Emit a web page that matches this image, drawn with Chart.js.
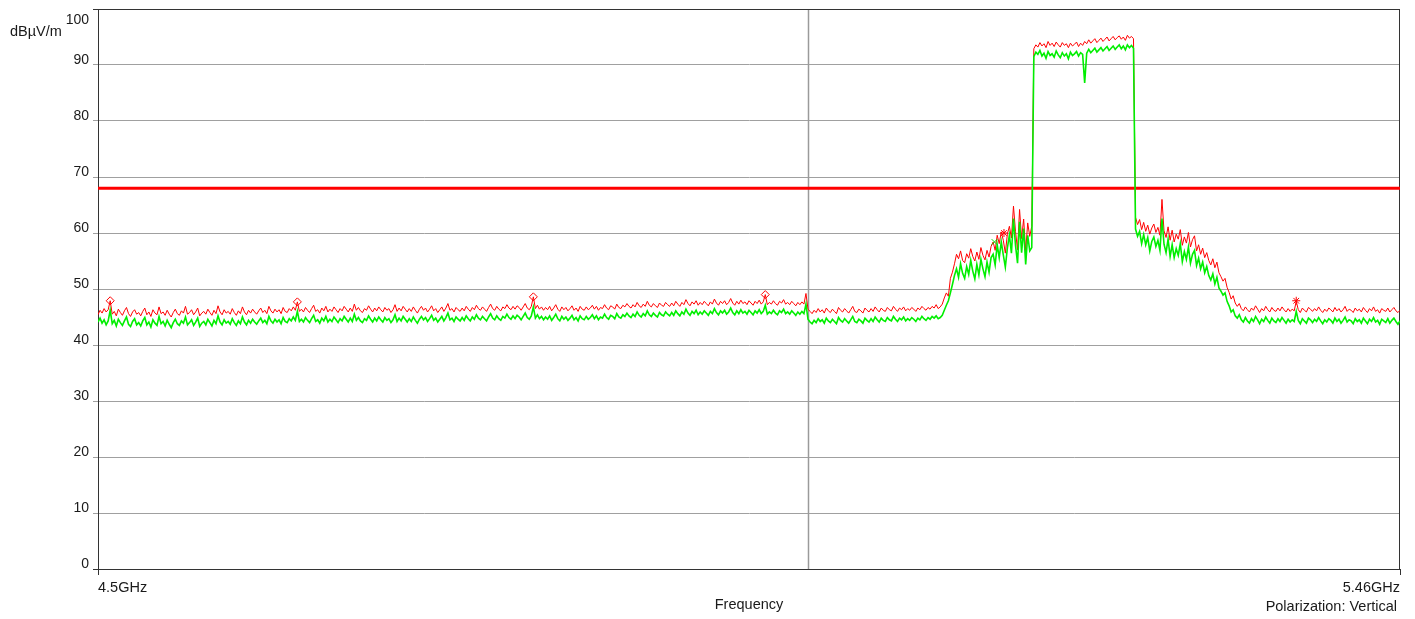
<!DOCTYPE html>
<html>
<head>
<meta charset="utf-8">
<title>Spectrum scan</title>
<script src="https://cdn.jsdelivr.net/npm/chart.js@4.4.1/dist/chart.umd.min.js"></script>
<style>
  html, body { margin: 0; padding: 0; background: #fff; }
  canvas { display: block; }
</style>
</head>
<body>
<canvas id="scan" width="1415" height="619"></canvas>
<script>
// sweep settings
const startGHz = 4.5;
const stopGHz = 5.46;
const levelTicks = [0, 10, 20, 30, 40, 50, 60, 70, 80, 90, 100];
const limitLevel = 68;
const cursorGHz = 5.0235;

// peak detector trace (dBµV/m), evenly spaced over the sweep
const peakLevels = [
  45.4, 46.2, 45.7, 46.5, 45.9, 46.3, 47.9, 45.5, 46.0, 45.2, 46.4, 45.8, 45.3, 46.1, 46.7, 45.6, 45.1, 45.9, 46.3, 45.5,
  45.8, 45.2, 46.0, 46.6, 45.4, 45.9, 45.1, 46.3, 45.7, 45.4, 46.8, 45.6, 45.9, 45.3, 46.2, 45.5, 45.0, 45.8, 46.4, 45.6,
  45.3, 46.1, 45.7, 46.9, 45.5, 45.8, 46.3, 45.4, 45.9, 46.6, 45.2, 45.7, 46.0, 45.5, 46.4, 45.8, 45.3, 46.2, 45.6, 47.0,
  45.9, 45.4, 46.3, 45.7, 46.0, 45.5, 46.5, 45.8, 45.3, 46.1, 45.6, 46.8, 45.9, 45.4, 46.2, 45.7, 46.4, 45.9, 45.5, 46.1,
  46.6, 45.8, 46.2, 45.6, 46.9, 46.1, 45.7, 46.4, 45.9, 46.3, 45.6, 46.7, 46.0, 45.8, 46.5, 46.1, 46.8, 46.2, 47.7, 46.0,
  46.4, 45.9, 46.7, 46.2, 45.8, 46.5, 47.1, 46.0, 46.3, 45.7, 46.6, 46.1, 46.9, 45.9, 46.4, 46.0, 46.8, 46.3, 45.8, 46.5,
  46.1, 46.9, 46.4, 45.9, 46.6, 46.0, 47.3, 46.2, 46.7, 46.1, 45.8, 46.5, 46.2, 47.0, 46.4, 45.9, 46.6, 46.1, 46.8, 46.3,
  45.9, 46.7, 46.2, 46.5, 45.8, 46.3, 47.2, 46.0, 46.6, 46.1, 46.9, 46.4, 45.9, 46.5, 46.0, 46.8, 46.2, 45.7, 46.4, 46.9,
  46.2, 46.6, 45.9, 46.4, 47.0, 46.1, 46.5, 45.8, 46.3, 46.8, 46.0, 46.6, 47.4, 46.2, 46.5, 45.9, 46.7, 46.3, 46.0, 46.6,
  46.1, 46.9, 46.4, 46.0, 46.7, 46.3, 47.1, 46.5, 46.2, 46.8, 46.4, 46.0, 46.7, 47.3, 46.5, 46.2, 46.9, 46.4, 46.1, 46.8,
  46.5, 47.2, 46.6, 46.3, 46.9, 46.4, 47.0, 46.7, 46.2, 46.8, 47.4, 46.6, 46.3, 46.9, 48.6, 46.5, 47.1, 46.4, 46.8, 46.2,
  46.7, 46.3, 46.9, 46.1, 46.6, 47.2, 46.4, 46.0, 46.8, 46.3, 46.7, 46.1, 46.5, 47.0, 46.2, 46.6, 46.0, 46.9, 46.4, 46.2,
  46.8, 46.3, 46.6, 47.1, 46.4, 46.9, 46.2, 46.7, 46.5, 47.2, 46.6, 46.3, 47.0, 46.8, 46.4, 47.3, 46.7, 46.5, 47.1, 46.8,
  47.4, 46.9, 46.6, 47.2, 46.8, 47.6, 47.0, 46.7, 47.3, 46.9, 47.8, 47.1, 46.8, 47.4, 47.0, 46.7, 47.5, 47.1, 46.9, 47.6,
  47.2, 46.9, 47.5, 47.0, 47.8, 47.3, 46.9, 47.6, 47.2, 48.1, 47.4, 47.0, 47.7, 47.3, 47.9, 47.1, 47.6, 47.2, 47.8, 47.4,
  47.0, 47.7, 47.3, 48.2, 47.5, 47.1, 47.8, 47.4, 47.9, 47.2, 47.6, 48.3, 47.5, 47.1, 47.8, 47.3, 48.0, 47.4, 47.7, 47.2,
  47.9, 47.5, 47.1, 47.8, 47.4, 48.0, 47.3, 47.7, 49.0, 47.2, 47.6, 47.3, 47.9, 47.4, 47.1, 47.8, 47.5, 48.1, 47.3, 47.6,
  47.2, 47.8, 47.4, 47.0, 47.6, 47.2, 47.7, 47.3, 49.2, 46.4, 46.0, 45.6, 46.2, 45.8, 46.5, 45.9, 46.3, 45.7, 46.6, 46.1,
  45.8, 46.4, 46.0, 45.6, 46.7, 46.2, 45.9, 46.5, 46.1, 45.7, 46.3, 46.9, 46.0, 45.8, 46.4, 46.1, 45.7, 46.6, 46.2, 45.9,
  46.5, 46.0, 46.8, 46.3, 45.9, 46.6, 46.2, 46.0, 46.7, 46.3, 46.1, 46.9, 46.4, 46.0, 46.6, 46.3, 46.8, 46.1, 46.5, 46.2,
  46.7, 46.4, 46.0, 46.6, 46.3, 46.9, 46.5, 46.2, 46.7, 46.4, 46.9, 46.6, 47.2, 46.5, 46.8, 47.3, 48.4, 49.3, 48.7, 51.9,
  53.0, 54.5, 56.2, 55.4, 56.8, 55.1, 54.7, 56.3, 55.5, 57.2, 55.8, 55.0, 56.6, 55.3, 57.4, 56.0, 55.2, 56.9, 55.7, 57.6,
  58.4, 56.9, 59.6, 58.1, 60.2, 58.7, 56.4, 59.8, 61.2, 59.1, 64.8, 60.3, 57.0, 64.2, 59.0, 62.5, 56.8, 61.8, 59.4, 61.2,
  92.9, 93.6, 93.2, 94.0, 93.4, 93.8, 93.1, 94.2, 93.5, 93.9, 93.3, 94.1, 93.6, 93.2, 94.0, 93.5, 93.8, 93.1, 93.9, 93.4,
  93.7, 94.1, 93.3, 93.9, 93.5, 94.2, 93.8, 94.5, 93.9, 94.3, 94.7, 94.0, 94.4, 94.8, 94.2, 94.6, 95.0, 94.3, 94.7, 95.1,
  94.5, 94.9, 95.2, 94.6, 95.0, 94.4, 95.3, 94.8, 95.1, 94.7, 62.8, 61.5, 62.4, 60.6, 61.9, 60.3, 61.4, 59.8, 60.9, 61.6,
  60.1, 61.0, 59.6, 66.0, 60.4, 59.2, 61.1, 58.7, 60.5, 58.4, 59.8, 58.9, 60.6, 57.8, 59.3, 58.2, 60.1, 57.5, 58.8, 59.5,
  56.8, 57.9, 56.2, 57.3, 55.6, 56.5, 55.1, 54.3, 55.4, 53.8, 54.8, 52.9, 52.2, 51.4, 51.9, 50.3, 49.4, 48.2, 48.8, 47.5,
  46.9, 47.4, 46.5, 46.1, 46.8, 46.3, 45.9, 46.6, 46.2, 47.0, 46.4, 45.8, 46.5, 46.1, 46.9, 46.3, 45.9, 46.7, 46.2, 46.0,
  46.6, 46.1, 46.8, 46.3, 45.9, 46.5, 46.0, 46.4, 46.1, 47.8, 46.3, 45.8, 46.6, 46.2, 45.9, 46.7, 46.4, 46.0, 46.5, 46.1,
  46.8, 46.2, 45.8, 46.4, 46.0, 46.6, 46.3, 45.9, 46.7, 46.1, 46.5, 45.9, 46.3, 46.9, 46.0, 46.4, 46.2, 45.8, 46.6, 46.1,
  46.4, 45.9, 46.7, 46.2, 45.8, 46.5, 46.1, 46.8, 46.0, 46.3, 45.7, 46.5, 46.2, 46.0, 46.6, 45.9, 46.3, 46.7, 46.1, 45.8,
  46.2
];

// average detector trace (dBµV/m), same sweep points
const avgLevels = [
  44.1, 44.8, 43.9, 44.5, 43.6, 44.3, 46.2, 43.8, 44.4, 43.4, 44.6, 44.0, 43.5, 44.3, 45.0, 43.7, 43.3, 44.2, 44.7, 43.6,
  44.0, 43.4, 44.3, 44.9, 43.6, 44.1, 43.2, 44.5, 43.9, 43.5, 45.1, 43.8, 44.2, 43.4, 44.4, 43.7, 43.1, 44.0, 44.6, 43.8,
  43.5, 44.3, 43.9, 45.0, 43.6, 44.0, 44.5, 43.5, 44.1, 44.8, 43.3, 43.9, 44.2, 43.6, 44.6, 44.0, 43.4, 44.4, 43.8, 45.2,
  44.1, 43.6, 44.5, 43.9, 44.2, 43.7, 44.7, 44.0, 43.5, 44.3, 43.8, 45.0, 44.1, 43.6, 44.4, 43.9, 44.6, 44.1, 43.7, 44.3,
  44.8, 44.0, 44.4, 43.8, 45.1, 44.3, 43.9, 44.6, 44.1, 44.5, 43.8, 44.9, 44.2, 44.0, 44.7, 44.3, 45.0, 44.4, 46.0, 44.2,
  44.6, 44.1, 44.9, 44.4, 44.0, 44.7, 45.3, 44.2, 44.5, 43.9, 44.8, 44.3, 45.1, 44.1, 44.6, 44.2, 45.0, 44.5, 44.0, 44.7,
  44.3, 45.1, 44.6, 44.1, 44.8, 44.2, 45.5, 44.4, 44.9, 44.3, 44.0, 44.7, 44.4, 45.2, 44.6, 44.1, 44.8, 44.3, 45.0, 44.5,
  44.1, 44.9, 44.4, 44.7, 44.0, 44.5, 45.4, 44.2, 44.8, 44.3, 45.1, 44.6, 44.1, 44.7, 44.2, 45.0, 44.4, 43.9, 44.6, 45.1,
  44.5, 44.9, 44.2, 44.7, 45.3, 44.4, 44.8, 44.1, 44.6, 45.1, 44.3, 44.9, 45.7, 44.5, 44.8, 44.2, 45.0, 44.6, 44.3, 44.9,
  44.4, 45.2, 44.7, 44.3, 45.0, 44.6, 45.4, 44.8, 44.5, 45.1, 44.7, 44.3, 45.0, 45.6, 44.8, 44.5, 45.2, 44.7, 44.4, 45.1,
  44.8, 45.5, 44.9, 44.6, 45.2, 44.7, 45.3, 45.0, 44.5, 45.1, 45.7, 44.9, 44.6, 45.2, 46.8, 44.8, 45.4, 44.7, 45.1, 44.5,
  45.0, 44.6, 45.2, 44.4, 44.9, 45.5, 44.7, 44.3, 45.1, 44.6, 45.0, 44.4, 44.8, 45.3, 44.5, 44.9, 44.3, 45.2, 44.7, 44.5,
  45.1, 44.6, 44.9, 45.4, 44.7, 45.2, 44.5, 45.0, 44.8, 45.5, 44.9, 44.6, 45.3, 45.1, 44.7, 45.6, 45.0, 44.8, 45.4, 45.1,
  45.7, 45.2, 44.9, 45.5, 45.1, 45.9, 45.3, 45.0, 45.6, 45.2, 46.1, 45.4, 45.1, 45.7, 45.3, 45.0, 45.8, 45.4, 45.2, 45.9,
  45.5, 45.2, 45.8, 45.3, 46.1, 45.6, 45.2, 45.9, 45.5, 46.4, 45.7, 45.3, 46.0, 45.6, 46.2, 45.4, 45.9, 45.5, 46.1, 45.7,
  45.3, 46.0, 45.6, 46.5, 45.8, 45.4, 46.1, 45.7, 46.2, 45.5, 45.9, 46.6, 45.8, 45.4, 46.1, 45.6, 46.3, 45.7, 46.0, 45.5,
  46.2, 45.8, 45.4, 46.1, 45.7, 46.3, 45.6, 46.0, 47.1, 45.5, 45.9, 45.6, 46.2, 45.7, 45.4, 46.1, 45.8, 46.4, 45.6, 45.9,
  45.5, 46.1, 45.7, 45.3, 45.9, 45.5, 46.0, 45.6, 47.3, 44.6, 44.1, 43.8, 44.4, 44.0, 44.7, 44.2, 44.5, 43.9, 44.8, 44.3,
  44.0, 44.6, 44.2, 43.8, 44.9, 44.4, 44.1, 44.7, 44.3, 43.9, 44.5, 45.1, 44.2, 44.0, 44.6, 44.3, 43.9, 44.8, 44.4, 44.1,
  44.7, 44.2, 45.0, 44.5, 44.1, 44.8, 44.4, 44.2, 44.9, 44.5, 44.3, 45.1, 44.6, 44.2, 44.8, 44.5, 45.0, 44.3, 44.7, 44.4,
  44.9, 44.6, 44.2, 44.8, 44.5, 45.1, 44.7, 44.4, 44.9, 44.6, 45.1, 44.8, 45.2, 44.7, 44.9, 45.3, 46.2, 47.1, 47.9, 49.3,
  50.8, 52.4, 53.6, 52.1, 54.5, 52.8, 51.9, 54.0, 52.6, 55.1, 53.2, 51.8, 54.4, 52.5, 55.3, 53.6, 52.2, 54.8, 53.0, 55.6,
  56.2, 54.3, 57.9, 55.6, 58.4, 56.1, 53.9, 57.3, 59.6, 56.4, 62.6, 57.8, 54.6, 62.0, 56.5, 60.8, 54.4, 59.6, 56.8, 57.4,
  91.5, 92.3, 91.9, 92.6, 91.6, 92.1, 91.2, 92.4, 91.7, 92.0, 91.4, 92.5, 91.8, 91.3, 92.2, 91.6, 92.0, 91.1, 92.3, 91.7,
  92.0, 92.4, 91.6, 92.2, 91.9, 86.8, 92.1, 92.8, 92.2, 92.6, 93.0, 92.3, 92.7, 93.1, 92.5, 92.9, 93.3, 92.6, 93.0, 93.4,
  92.8, 93.2, 93.6, 92.9, 93.4, 92.7, 93.6, 93.1, 93.5, 93.0, 60.7, 59.4, 60.3, 58.1, 59.7, 57.9, 59.2, 56.8, 58.5, 59.3,
  57.6, 58.7, 56.9, 62.6, 58.0, 56.5, 58.9, 55.8, 57.9, 55.6, 57.2, 56.0, 58.1, 54.9, 56.7, 55.3, 57.5, 54.6, 56.2, 56.9,
  54.2, 55.5, 53.6, 54.8, 52.9, 54.0, 52.4, 51.6, 52.7, 50.9, 52.1, 50.2, 49.6, 48.9, 49.3, 47.8, 47.0, 45.9, 46.3, 45.2,
  44.8, 45.4, 44.5, 44.1, 44.9, 44.3, 43.9, 44.7, 44.2, 45.1, 44.5, 43.8, 44.6, 44.2, 45.0, 44.4, 43.9, 44.8, 44.3, 44.0,
  44.7, 44.2, 44.9, 44.4, 43.9, 44.6, 44.1, 44.5, 44.2, 46.0, 44.4, 43.8, 44.7, 44.3, 43.9, 44.8, 44.5, 44.0, 44.6, 44.2,
  44.9, 44.3, 43.8, 44.5, 44.1, 44.7, 44.4, 43.9, 44.8, 44.2, 44.6, 43.9, 44.4, 45.0, 44.1, 44.5, 44.3, 43.8, 44.7, 44.2,
  44.5, 43.9, 44.8, 44.3, 43.8, 44.6, 44.2, 44.9, 44.1, 44.4, 43.7, 44.6, 44.3, 44.0, 44.7, 43.9, 44.4, 44.8, 44.2, 43.7,
  44.3
];

// marker readouts
const diamondGHz = [4.509, 4.647, 4.821, 4.992];
const diamondLevels = [47.9, 47.7, 48.6, 49.0];
const starGHz = [5.168, 5.3835];
const starLevels = [60.0, 47.9];
const crossGHz = [5.161];
const crossLevels = [58.4];

const FONT = '"Liberation Sans", Arial, sans-serif';
const INK = '#1a1a1a';
const FRAME = '#333333';
const GRID = '#a0a0a0';

const sweep = levels => {
  const step = (stopGHz - startGHz) / (levels.length - 1);
  return levels.map((v, i) => ({ x: startGHz + i * step, y: v }));
};
const pairs = (xs, ys) => xs.map((x, i) => ({ x, y: ys[i] }));

// frame, cursor and the loose text around the plot
const decorations = {
  id: 'decorations',
  beforeDatasetsDraw(chart) {
    const { ctx, chartArea: a, scales: { x } } = chart;
    ctx.save();
    const cx = Math.round(x.getPixelForValue(cursorGHz)) + 0.5;
    ctx.strokeStyle = '#9a9a9a';
    ctx.lineWidth = 1.5;
    ctx.beginPath();
    ctx.moveTo(cx, a.top);
    ctx.lineTo(cx, a.bottom);
    ctx.stroke();
    ctx.strokeStyle = FRAME;
    ctx.lineWidth = 1;
    ctx.strokeRect(Math.round(a.left) + 0.5, Math.round(a.top) + 0.5,
      Math.round(a.right - a.left) - 1, Math.round(a.bottom - a.top));
    ctx.restore();
  },
  afterDraw(chart) {
    const { ctx, chartArea: a, scales: { y } } = chart;
    ctx.save();
    ctx.fillStyle = INK;
    ctx.textBaseline = 'alphabetic';
    ctx.font = '14px ' + FONT;
    ctx.textAlign = 'right';
    levelTicks.forEach(v => {
      const py = y.getPixelForValue(v);
      const base = v === 100 ? py + 14.5 : py - 1;
      ctx.fillText(String(v), 89, base);
    });
    ctx.font = '14.5px ' + FONT;
    ctx.textAlign = 'left';
    ctx.fillText('dBµV/m', 10, 36);
    ctx.textAlign = 'right';
    ctx.fillText('Polarization: Vertical', a.right - 3, 611);
    ctx.restore();
  }
};

new Chart(document.getElementById('scan'), {
  type: 'line',
  data: {
    datasets: [
      {
        label: 'Marker',
        data: pairs(diamondGHz, diamondLevels),
        showLine: false,
        pointStyle: 'rectRot',
        pointRadius: 4,
        pointBorderWidth: 1,
        pointBorderColor: '#ff0000',
        pointBackgroundColor: 'rgba(255,255,255,0)'
      },
      {
        label: 'Marker peak',
        data: pairs(starGHz, starLevels),
        showLine: false,
        pointStyle: 'star',
        pointRadius: 4,
        pointBorderWidth: 1,
        pointBorderColor: '#ff0000'
      },
      {
        label: 'Marker avg',
        data: pairs(crossGHz, crossLevels),
        showLine: false,
        pointStyle: 'crossRot',
        pointRadius: 4,
        pointBorderWidth: 1,
        pointBorderColor: '#00e000'
      },
      {
        label: 'Average',
        data: sweep(avgLevels),
        borderColor: '#00ee00',
        borderWidth: 1.6,
        pointRadius: 0,
        tension: 0
      },
      {
        label: 'Peak',
        data: sweep(peakLevels),
        borderColor: '#ff0000',
        borderWidth: 1,
        pointRadius: 0,
        tension: 0
      },
      {
        label: 'Limit',
        data: pairs([startGHz, stopGHz], [limitLevel, limitLevel]),
        borderColor: '#ff0000',
        borderWidth: 3,
        pointRadius: 0
      }
    ]
  },
  options: {
    responsive: false,
    animation: false,
    events: [],
    layout: { padding: { top: 9, right: 15, left: 0, bottom: 0 } },
    plugins: { legend: { display: false }, tooltip: { enabled: false } },
    scales: {
      x: {
        type: 'linear',
        min: startGHz,
        max: stopGHz,
        afterBuildTicks: s => { s.ticks = [startGHz, stopGHz].map(v => ({ value: v })); },
        afterFit: s => { s.height = 50; },
        border: { display: true, color: FRAME },
        grid: { drawOnChartArea: false, drawTicks: true, tickLength: 6, color: FRAME },
        ticks: {
          autoSkip: false,
          maxRotation: 0,
          align: 'inner',
          padding: 4,
          color: INK,
          font: { family: FONT, size: 14.5 },
          callback: v => v + 'GHz'
        },
        title: {
          display: true,
          text: 'Frequency',
          color: INK,
          font: { family: FONT, size: 14.5 },
          padding: { top: 0, bottom: 5 }
        }
      },
      y: {
        min: 0,
        max: 100,
        afterBuildTicks: s => { s.ticks = levelTicks.map(v => ({ value: v })); },
        afterFit: s => { s.width = 98; },
        border: { display: true, color: FRAME },
        grid: {
          drawTicks: true,
          tickLength: 5,
          color: c => (c.tick && c.tick.value % 100 === 0) ? FRAME : GRID
        },
        ticks: { display: false }
      }
    }
  },
  plugins: [decorations]
});
</script>
</body>
</html>
